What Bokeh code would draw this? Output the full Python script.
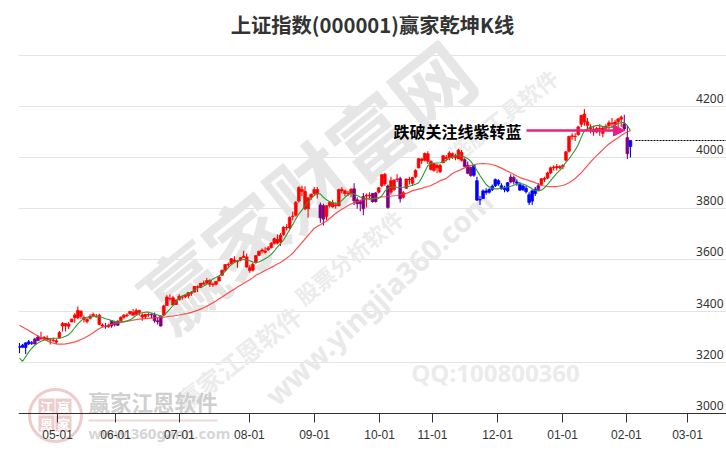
from bokeh.plotting import figure
from bokeh.models import Label, FixedTicker, Arrow, NormalHead
from bokeh.embed import file_html
from bokeh.resources import INLINE

TITLE = "上证指数(000001)赢家乾坤K线"
x_tick_positions = [12.4, 31.3, 52.1, 74.9, 96.1, 117.3, 134.5, 155.7, 176.9, 197.7, 217.6]
x_tick_labels = ["05-01", "06-01", "07-01", "08-01", "09-01", "10-01", "11-01", "12-01", "01-01", "02-01", "03-01"]
y_ticks = [3000, 3200, 3400, 3600, 3800, 4000, 4200]
y_grid = [3000, 3200, 3400, 3600, 3800, 4000, 4200, 4400]

opens = [3258,3259,3258,3272,3275,3272,3285,3291,3292,3288,
 3288,3285,3284,3296,3352,3342,3350,3358,3385,3374,
 3400,3375,3360,3372,3382,3378,3384,3342,3340,3345,
 3343,3355,3345,3362,3376,3382,3390,3395,3388,3395,
 3385,3378,3385,3386,3385,3362,3342,3385,3422,3450,
 3452,3426,3445,3455,3456,3460,3470,3475,3495,3492,
 3505,3510,3520,3505,3505,3518,3540,3560,3580,3585,
 3600,3593,3600,3610,3612,3570,3560,3590,3618,3635,
 3630,3640,3648,3665,3680,3670,3700,3725,3725,3770,
 3775,3830,3875,3868,3800,3845,3860,3875,3815,3812,
 3770,3812,3825,3815,3812,3875,3870,3860,3860,3878,
 3835,3820,3800,3850,3850,3860,3828,3865,3890,3935,
 3805,3910,3875,3915,3918,3845,3880,3915,3900,3925,
 3960,3995,3990,4015,3985,3950,3970,3945,3980,4000,
 4000,4015,4005,3995,4020,3992,3970,3961,3969,3910,
 3835,3840,3870,3865,3875,3890,3910,3890,3880,3870,
 3905,3922,3905,3895,3875,3880,3855,3830,3860,3875,
 3895,3915,3920,3940,3960,3960,3960,3965,3990,4025,
 4085,4083,4090,4130,4170,4140,4120,4110,4100,4115,
 4095,4115,4125,4135,4130,4140,4150,4132,4078,4043]
highs = [3276,3272,3278,3287,3283,3296,3306,3319,3304,3305,
 3294,3296,3291,3322,3358,3353,3358,3370,3392,3418,
 3403,3383,3373,3388,3395,3389,3390,3352,3354,3352,
 3365,3362,3363,3380,3389,3392,3400,3408,3410,3405,
 3392,3389,3393,3392,3395,3375,3383,3425,3462,3465,
 3460,3446,3466,3462,3465,3473,3478,3497,3500,3510,
 3520,3530,3525,3512,3518,3536,3562,3582,3590,3608,
 3615,3600,3612,3636,3625,3580,3590,3618,3636,3645,
 3650,3655,3670,3688,3700,3705,3732,3740,3770,3788,
 3830,3888,3890,3888,3845,3860,3885,3885,3825,3820,
 3815,3830,3835,3825,3878,3885,3875,3870,3880,3900,
 3845,3835,3862,3860,3865,3862,3865,3885,3935,3940,
 3895,3925,3915,3935,3925,3870,3918,3925,3925,3955,
 3998,3998,4020,4025,3990,3980,3975,3975,4010,4010,
 4025,4020,4015,4035,4030,3998,3985,3965,3972,3925,
 3850,3875,3880,3880,3895,3918,3915,3900,3890,3905,
 3935,3930,3915,3905,3895,3890,3865,3875,3885,3900,
 3920,3925,3945,3965,3970,3975,3970,3975,4025,4085,
 4095,4095,4125,4168,4190,4155,4130,4125,4120,4130,
 4120,4130,4145,4155,4148,4155,4165,4168,4125,4068]
lows = [3235,3257,3233,3268,3268,3270,3282,3289,3288,3285,
 3270,3280,3271,3295,3320,3320,3330,3357,3355,3368,
 3370,3356,3352,3367,3376,3374,3345,3336,3331,3335,
 3335,3340,3342,3360,3370,3376,3385,3382,3385,3382,
 3362,3370,3378,3372,3355,3348,3340,3382,3421,3442,
 3424,3425,3442,3445,3450,3450,3460,3473,3475,3490,
 3505,3505,3495,3495,3500,3516,3538,3555,3570,3585,
 3590,3570,3595,3608,3570,3550,3555,3585,3615,3625,
 3625,3635,3645,3660,3660,3655,3695,3715,3720,3755,
 3770,3825,3850,3795,3765,3835,3850,3840,3745,3735,
 3755,3805,3805,3800,3810,3860,3850,3850,3845,3815,
 3800,3790,3775,3805,3835,3825,3825,3860,3885,3890,
 3800,3855,3870,3905,3825,3840,3878,3895,3890,3920,
 3958,3975,3985,3975,3950,3945,3940,3940,3978,3985,
 3990,3995,3990,3995,3985,3965,3935,3925,3925,3830,
 3815,3838,3855,3860,3870,3885,3890,3875,3865,3865,
 3900,3895,3890,3870,3870,3860,3815,3815,3850,3870,
 3890,3905,3915,3935,3950,3950,3955,3955,3985,4020,
 4070,4065,4085,4120,4125,4105,4095,4085,4095,4085,
 4080,4105,4110,4115,4115,4120,4120,4105,3995,4000]
closes = [3262,3267,3276,3280,3276,3291,3299,3296,3297,3295,
 3288,3287,3279,3316,3342,3352,3341,3369,3374,3403,
 3380,3367,3367,3380,3387,3380,3348,3346,3340,3339,
 3363,3347,3361,3376,3384,3385,3399,3384,3402,3403,
 3377,3388,3387,3388,3362,3359,3381,3420,3455,3448,
 3424,3444,3458,3454,3461,3473,3473,3497,3493,3509,
 3510,3520,3505,3503,3516,3534,3560,3582,3582,3605,
 3593,3597,3609,3615,3573,3559,3583,3617,3634,3639,
 3635,3647,3665,3683,3666,3697,3728,3727,3766,3771,
 3825,3883,3868,3800,3843,3857,3875,3858,3765,3760,
 3812,3826,3807,3812,3875,3870,3860,3861,3876,3831,
 3820,3828,3848,3853,3853,3828,3862,3882,3933,3897,
 3889,3865,3912,3916,3839,3863,3916,3913,3922,3950,
 3996,3988,4016,3986,3954,3976,3960,3969,4007,3997,
 4018,4002,4000,4029,3990,3965,3939,3930,3931,3834,
 3836,3870,3864,3875,3888,3914,3897,3878,3875,3902,
 3924,3906,3900,3873,3889,3867,3825,3870,3876,3890,
 3917,3919,3940,3960,3963,3965,3965,3969,4023,4083,
 4083,4082,4120,4165,4139,4126,4112,4101,4114,4113,
 4116,4123,4136,4133,4139,4151,4158,4113,4015,4067]
kinds = (["b"]*5 + ["p"]*2 + ["r"]*21 + ["p"] + ["r"] + ["p"]*3 + ["r"]*10 + ["p"]*4 + ["r"]*51
         + ["p"]*2 + ["r"]*9 + ["p"]*4 + ["r"]*2 + ["p"]*2 + ["r"]*3 + ["p"] + ["r"]*3 + ["p"] + ["r"]*20
         + ["p"]*3 + ["b"]*12 + ["p"]*2 + ["b"]*7 + ["p"] + ["r"]*27 + ["p"]*2 + ["b"])
slow_line = [3345,3338,3331,3324,3317,3310,3303,3296,3290,3284,
 3279,3275,3272,3271,3271,3272,3274,3277,3280,3284,
 3289,3294,3301,3308,3316,3324,3332,3337,3341,3345,
 3348,3351,3353,3356,3358,3360,3363,3365,3367,3369,
 3370,3371,3372,3373,3374,3375,3376,3377,3378,3380,
 3381,3383,3385,3387,3389,3392,3395,3399,3403,3408,
 3413,3419,3426,3433,3440,3448,3455,3463,3471,3479,
 3486,3494,3501,3508,3516,3523,3531,3540,3546,3552,
 3559,3565,3571,3577,3584,3590,3598,3607,3616,3626,
 3640,3654,3668,3682,3696,3710,3724,3731,3738,3745,
 3752,3762,3772,3782,3790,3798,3805,3813,3819,3824,
 3828,3832,3836,3838,3839,3840,3842,3844,3846,3847,
 3848,3849,3851,3852,3855,3857,3860,3865,3871,3874,
 3877,3880,3884,3887,3891,3897,3903,3910,3914,3918,
 3928,3938,3944,3949,3955,3960,3965,3969,3972,3975,
 3976,3977,3976,3975,3972,3969,3964,3959,3953,3947,
 3941,3935,3928,3922,3918,3914,3910,3906,3902,3896,
 3891,3889,3887,3887,3887,3887,3889,3891,3896,3902,
 3910,3918,3930,3941,3955,3969,3982,3996,4008,4019,
 4031,4043,4053,4062,4070,4078,4086,4094,4100,4105]
fast_line = [3216,3204,3222,3240,3255,3267,3275,3282,3286,3290,
 3293,3294,3294,3294,3297,3302,3308,3320,3335,3350,
 3362,3372,3376,3378,3380,3380,3378,3375,3370,3367,
 3363,3359,3357,3357,3359,3362,3366,3374,3383,3391,
 3394,3396,3396,3393,3389,3385,3380,3382,3395,3408,
 3422,3437,3450,3458,3465,3470,3476,3482,3489,3495,
 3498,3505,3515,3526,3532,3538,3545,3555,3570,3582,
 3590,3596,3600,3602,3600,3597,3592,3590,3592,3598,
 3605,3612,3622,3635,3650,3664,3678,3698,3718,3738,
 3760,3780,3795,3812,3826,3840,3852,3860,3858,3845,
 3835,3828,3823,3820,3822,3832,3845,3855,3860,3858,
 3852,3846,3842,3840,3839,3839,3840,3841,3850,3868,
 3880,3884,3886,3884,3883,3884,3886,3888,3892,3896,
 3902,3920,3945,3968,3977,3978,3979,3980,3983,3990,
 3997,4003,4008,4010,4005,4002,3996,3985,3969,3950,
 3930,3912,3895,3885,3880,3878,3878,3881,3883,3885,
 3888,3892,3896,3899,3897,3892,3885,3878,3872,3870,
 3873,3882,3895,3910,3925,3938,3950,3965,3982,3995,
 4012,4030,4050,4080,4105,4113,4118,4122,4125,4125,
 4122,4118,4117,4120,4127,4133,4137,4137,4125,4105]

n = len(closes)
assert all(len(a) == n for a in (opens, highs, lows, kinds, slow_line, fast_line)), [len(a) for a in (opens, highs, lows, kinds, slow_line, fast_line)]

# reference pixel -> data helpers, used only to place annotations
def dx(px): return (px - 19) / 3.07
def dy(py): return 3000 + (413 - py) * 3.908

p = figure(width=726, height=450, output_backend="svg", toolbar_location=None,
           x_range=(dx(18), dx(726)), y_range=(dy(450), dy(40)),
           min_border_left=18, min_border_right=0, min_border_top=40, min_border_bottom=0,
           title=TITLE)
p.outline_line_color = None
p.background_fill_color = "white"
p.title.align = "center"
p.title.text_font = "Noto Sans CJK SC"
p.title.text_font_size = "20.3px"
p.title.text_font_style = "bold"
p.title.text_color = "#333333"
p.title.standoff = 4
p.title.offset = -2

p.yaxis.visible = False
p.xgrid.visible = False
p.ygrid.ticker = FixedTicker(ticks=y_grid)
p.ygrid.grid_line_color = "#e3e3e3"
p.ygrid.grid_line_width = 1

ax = p.xaxis[0]
ax.ticker = FixedTicker(ticks=x_tick_positions)
ax.major_label_overrides = dict(zip(x_tick_positions, x_tick_labels))
ax.fixed_location = 3000
ax.axis_line_color = "#333333"
ax.major_tick_line_color = "#333333"
ax.major_tick_out = 9
ax.major_tick_in = 0
ax.minor_tick_line_color = None
ax.major_label_standoff = 7
ax.major_label_text_font = "Liberation Sans"
ax.major_label_text_font_size = "12px"
ax.major_label_text_color = "#333333"


def wm(text, px, py, size, angle=0, color="#e6e6e6", font="Noto Sans CJK SC", weight="bold", align="center"):
    p.add_layout(Label(x=dx(px), y=dy(py), text=text, angle=angle, angle_units="deg",
                       text_font=font, text_font_size=f"{size}px", text_font_style=weight,
                       text_color=color, text_align=align, text_baseline="middle", level="underlay"))

# diagonal watermarks
wm("赢家财富网", 305, 183, 80, 39)
wm("赢家江恩软件", 238, 357, 25, 38, color="#ececec")
wm("www.yingjia360.com", 378, 297, 29, 43, color="#e9e9e9", font="Noto Sans")
wm("股票分析软件", 348, 256, 22, 40, color="#ececec")
wm("选股工具软件", 502, 114, 22, 38, color="#ececec")
wm("QQ:100800360", 495, 372, 24, 0, color="#ebebeb", font="Open Sans")

# bottom-left logo
seal = "#eccccc"
p.scatter([dx(55)], [dy(415)], size=52, marker="circle", fill_color=None, line_color=seal, line_width=3, level="underlay")
for ch, cx, cy in [("江", 46, 406), ("赢", 63, 406), ("恩", 46, 423), ("家", 63, 423)]:
    p.scatter([dx(cx)], [dy(cy)], size=16, marker="square", fill_color=seal, line_color=None, level="underlay")
    wm(ch, cx, cy, 13, 0, color="white")
wm("赢家江恩软件", 88, 401, 21.5, 0, color="#cfcfcf", align="left")
p.segment([dx(88)], [dy(420)], [dx(217)], [dy(420)], line_color="#eed8d8", line_width=2, level="underlay")
wm("www.360gann.com", 88, 432, 15, 0, color="#d6d6d6", font="Noto Sans", align="left")

# candles
palette = {"r": "#ff0000", "b": "#0000ff", "p": "#800080"}
xs = list(range(n))
colors = [palette[k] for k in kinds]
tops = [max(o, c) for o, c in zip(opens, closes)]
bottoms = [min(o, c) for o, c in zip(opens, closes)]
p.segment(xs, highs, xs, lows, line_color=colors, line_width=1.1)
p.vbar(x=xs, top=tops, bottom=bottoms, width=0.9, fill_color=colors, line_color=colors, line_width=0.7)

# moving lines
p.line(xs, slow_line, line_color="#ff3030", line_width=1.2, line_alpha=0.85)
p.line(xs, fast_line, line_color="#2e9a2e", line_width=1.1)

# last price line
p.line([dx(635), dx(726)], [closes[-1], closes[-1]], line_color="black", line_width=1, line_dash=[2, 1])

# y labels
for t in y_ticks:
    p.add_layout(Label(x=dx(723), y=t, y_offset=8, text=str(t), text_align="right", text_baseline="middle",
                       text_font="Noto Sans", text_font_size="12px", text_color="#333333"))

# annotation
arrow_y = dy(130)
p.add_layout(Arrow(end=NormalHead(size=11, fill_color="#e8207f", line_color="#e8207f"),
                   x_start=dx(526), y_start=arrow_y, x_end=dx(624), y_end=arrow_y,
                   line_color="#e8207f", line_width=2.4))
p.add_layout(Label(x=dx(393), y=arrow_y, text="跌破关注线紫转蓝", text_align="left", text_baseline="middle",
                   text_font="Noto Sans CJK SC", text_font_size="16px", text_font_style="bold", text_color="black"))

open("out.html", "w").write(file_html(p, INLINE))
